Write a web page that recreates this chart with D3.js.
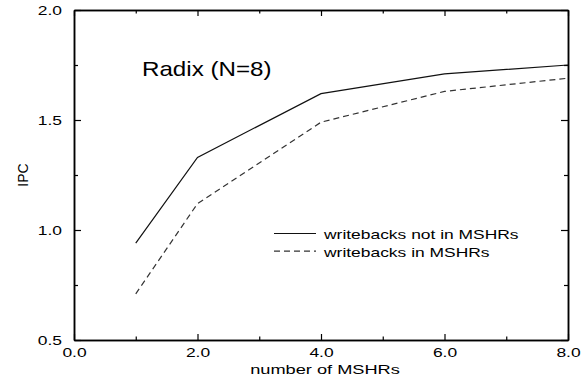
<!DOCTYPE html>
<html>
<head>
<meta charset="utf-8">
<script src="https://cdn.jsdelivr.net/npm/d3@7"></script>
<style>
  body { margin: 0; background: #fff; }
  text { font-family: "Liberation Sans", Arial, Helvetica, sans-serif; fill: #000; }
  .axis path, .axis line { stroke: #000; }
</style>
</head>
<body>
<svg id="chart" width="582" height="376"></svg>
<script>
// Data
var mshrs = [1, 2, 4, 6, 8];
var ipcNotIn = [0.94, 1.33, 1.62, 1.71, 1.75];
var ipcIn = [0.71, 1.12, 1.49, 1.63, 1.69];
var seriesNames = ["writebacks not in MSHRs", "writebacks in MSHRs"];
var xTicks = [0, 2, 4, 6, 8];
var xMinor = [1, 3, 5, 7];
var yTicks = [0.5, 1.0, 1.5, 2.0];
var yMinor = [0.75, 1.25, 1.75];

// Setup chart dimensions and margins
var margin = { top: 10, right: 14, bottom: 36, left: 74 };
var width = 582 - margin.left - margin.right;
var height = 376 - margin.top - margin.bottom;

var x = d3.scaleLinear().domain([0, 8]).range([0, width]);
var y = d3.scaleLinear().domain([0.5, 2.0]).range([height, 0]);

var svg = d3.select('#chart')
  .append('g')
  .attr('transform', 'translate(' + margin.left + ',' + margin.top + ')');

// stretch small text horizontally like the original
function stretch(sel, k) {
  sel.each(function () {
    var w = this.getComputedTextLength();
    d3.select(this).attr('textLength', w * k).attr('lengthAdjust', 'spacingAndGlyphs');
  });
}

var fmt = d3.format('.1f');

// Bottom axis
var gx = svg.append('g')
  .attr('class', 'axis axis--x')
  .attr('transform', 'translate(0,' + height + ')')
  .call(d3.axisBottom(x).tickValues(xTicks).tickFormat(fmt).tickSize(-6).tickSizeOuter(0).tickPadding(8));
gx.append('g').call(d3.axisBottom(x).tickValues(xMinor).tickFormat('').tickSize(-3.5).tickSizeOuter(0));

// Left axis
var gy = svg.append('g')
  .attr('class', 'axis axis--y')
  .call(d3.axisLeft(y).tickValues(yTicks).tickFormat(fmt).tickSize(-7).tickSizeOuter(0).tickPadding(12));
gy.append('g').call(d3.axisLeft(y).tickValues(yMinor).tickFormat('').tickSize(-4).tickSizeOuter(0));

// Top and right axes, ticks only
var gt = svg.append('g').attr('class', 'axis')
  .call(d3.axisTop(x).tickValues(xTicks).tickFormat('').tickSize(-6).tickSizeOuter(0));
gt.append('g').call(d3.axisTop(x).tickValues(xMinor).tickFormat('').tickSize(-3.5).tickSizeOuter(0));

var gr = svg.append('g').attr('class', 'axis')
  .attr('transform', 'translate(' + width + ',0)')
  .call(d3.axisRight(y).tickValues(yTicks).tickFormat('').tickSize(-7).tickSizeOuter(0));
gr.append('g').call(d3.axisRight(y).tickValues(yMinor).tickFormat('').tickSize(-4).tickSizeOuter(0));

svg.selectAll('.axis path').attr('stroke-width', 1.5);
svg.selectAll('.axis line').attr('stroke-width', 1.2);

svg.selectAll('.axis--x text, .axis--y text')
  .style('font-size', '13px')
  .style('font-family', '"Liberation Sans", Arial, Helvetica, sans-serif')
  .call(stretch, 1.34);

// Axis titles
svg.append('text')
  .attr('x', width / 2 + 4)
  .attr('y', height + 34)
  .attr('text-anchor', 'middle')
  .style('font-size', '13px')
  .text('number of MSHRs')
  .call(stretch, 1.4);

svg.append('text')
  .attr('transform', 'rotate(-90)')
  .attr('x', -height / 2)
  .attr('y', -46)
  .attr('text-anchor', 'middle')
  .style('font-size', '14px')
  .text('IPC');

// Chart title inside plot
svg.append('text')
  .attr('x', 68)
  .attr('y', 66)
  .style('font-size', '21px')
  .text('Radix (N=8)')
  .call(stretch, 1.15);

// Lines
var line = d3.line()
  .x(function (d) { return x(d.x); })
  .y(function (d) { return y(d.y); });

var series = [
  { name: seriesNames[0], dash: null, values: mshrs.map(function (m, i) { return { x: m, y: ipcNotIn[i] }; }) },
  { name: seriesNames[1], dash: '6,4', values: mshrs.map(function (m, i) { return { x: m, y: ipcIn[i] }; }) }
];

svg.selectAll('path.line')
  .data(series)
  .enter().append('path')
  .attr('class', 'line')
  .attr('d', function (d) { return line(d.values); })
  .attr('fill', 'none')
  .attr('stroke', function (d, i) { return i === 0 ? '#111' : '#333'; })
  .attr('stroke-width', 1.2)
  .attr('stroke-dasharray', function (d) { return d.dash; });

// Legend
var legend = svg.append('g')
  .attr('transform', 'translate(' + (274 - margin.left) + ',' + (233.5 - margin.top) + ')');

var items = legend.selectAll('g')
  .data(series)
  .enter().append('g')
  .attr('transform', function (d, i) { return 'translate(0,' + (i * 17.7) + ')'; });

items.append('line')
  .attr('x1', 0).attr('x2', 42)
  .attr('y1', 0).attr('y2', 0)
  .attr('stroke', function (d, i) { return i === 0 ? '#111' : '#333'; })
  .attr('stroke-width', 1.2)
  .attr('stroke-dasharray', function (d) { return d.dash; });

items.append('text')
  .attr('x', 50)
  .attr('y', 5.5)
  .style('font-size', '13px')
  .text(function (d) { return d.name; })
  .call(stretch, 1.34);
</script>
</body>
</html>
